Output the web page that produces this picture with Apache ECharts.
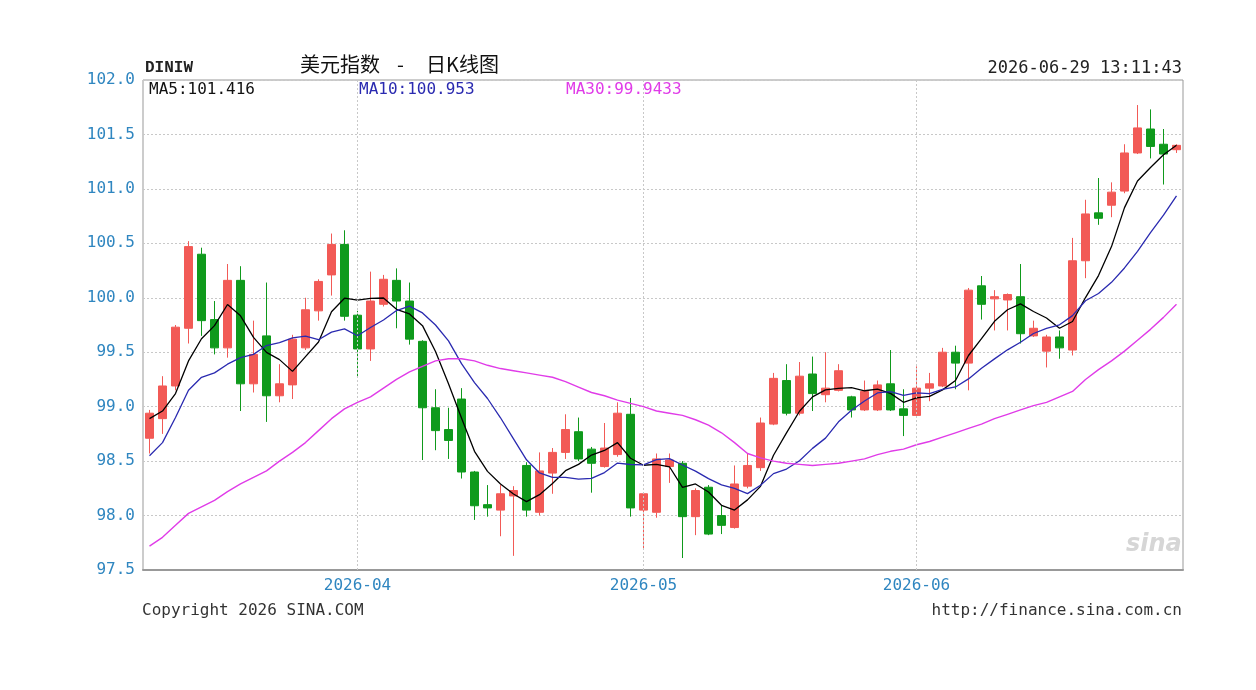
<!DOCTYPE html>
<html>
<head>
<meta charset="utf-8">
<title>美元指数 - 日K线图</title>
<script src="https://cdn.jsdelivr.net/npm/echarts@6/dist/echarts.min.js"></script>
<style>
  html, body { margin: 0; padding: 0; background: #fff; }
  #chart { width: 1256px; height: 690px; }
</style>
</head>
<body>
<div id="chart"></div>
<script>
// daily bars, [open, close, low, high]
var kline = [
  [98.71, 98.94, 98.57, 98.97], [98.89, 99.19, 98.75, 99.28], [99.19, 99.73, 99.15, 99.75],
  [99.72, 100.47, 99.58, 100.52], [100.40, 99.79, 99.65, 100.46], [99.80, 99.54, 99.48, 99.97],
  [99.54, 100.16, 99.45, 100.31], [100.16, 99.21, 98.96, 100.29], [99.21, 99.48, 99.13, 99.79],
  [99.65, 99.10, 98.86, 100.14], [99.10, 99.21, 99.04, 99.39], [99.20, 99.62, 99.07, 99.66],
  [99.54, 99.89, 99.52, 100.00], [99.88, 100.15, 99.79, 100.17], [100.21, 100.49, 100.02, 100.59],
  [100.49, 99.83, 99.79, 100.62], [99.84, 99.53, 99.28, 99.88], [99.53, 99.97, 99.42, 100.24],
  [99.94, 100.17, 99.92, 100.21], [100.16, 99.97, 99.72, 100.27], [99.97, 99.62, 99.57, 100.14],
  [99.60, 98.99, 98.51, 99.61], [98.99, 98.78, 98.60, 99.16], [98.79, 98.69, 98.52, 98.99],
  [99.07, 98.40, 98.34, 99.17], [98.40, 98.09, 97.96, 98.41], [98.10, 98.07, 97.99, 98.28],
  [98.05, 98.20, 97.81, 98.28], [98.18, 98.23, 97.63, 98.27], [98.46, 98.05, 97.99, 98.49],
  [98.03, 98.41, 98.00, 98.58], [98.39, 98.58, 98.20, 98.62], [98.58, 98.79, 98.52, 98.93],
  [98.77, 98.52, 98.50, 98.90], [98.61, 98.48, 98.21, 98.63], [98.45, 98.62, 98.44, 98.85],
  [98.56, 98.94, 98.54, 99.04], [98.93, 98.07, 97.99, 99.08], [98.05, 98.20, 97.70, 98.21],
  [98.03, 98.52, 97.98, 98.57], [98.45, 98.51, 98.30, 98.57], [98.48, 97.99, 97.61, 98.50],
  [97.99, 98.23, 97.82, 98.25], [98.26, 97.83, 97.82, 98.28], [98.00, 97.91, 97.83, 98.09],
  [97.89, 98.29, 97.88, 98.46], [98.27, 98.46, 98.25, 98.57], [98.44, 98.85, 98.41, 98.90],
  [98.84, 99.26, 98.83, 99.31], [99.24, 98.94, 98.92, 99.39], [98.94, 99.28, 98.92, 99.41],
  [99.30, 99.12, 98.96, 99.46], [99.11, 99.17, 99.04, 99.50], [99.15, 99.33, 99.14, 99.39],
  [99.09, 98.97, 98.90, 99.10], [98.97, 99.14, 98.96, 99.24], [98.97, 99.20, 98.96, 99.24],
  [99.21, 98.97, 98.96, 99.52], [98.98, 98.92, 98.73, 99.16], [98.92, 99.17, 98.90, 99.37],
  [99.17, 99.21, 99.05, 99.31], [99.19, 99.50, 99.18, 99.54], [99.50, 99.40, 99.16, 99.56],
  [99.40, 100.07, 99.15, 100.09], [100.11, 99.94, 99.80, 100.20], [99.99, 100.01, 99.70, 100.07],
  [99.98, 100.03, 99.70, 100.04], [100.01, 99.67, 99.58, 100.31], [99.65, 99.72, 99.64, 99.79],
  [99.51, 99.64, 99.36, 99.66], [99.64, 99.54, 99.44, 99.70], [99.52, 100.34, 99.47, 100.55],
  [100.34, 100.77, 100.18, 100.90], [100.78, 100.73, 100.67, 101.10], [100.85, 100.97, 100.74, 101.06],
  [100.98, 101.33, 100.96, 101.41], [101.33, 101.56, 101.32, 101.77], [101.55, 101.39, 101.28, 101.73],
  [101.41, 101.32, 101.04, 101.55], [101.36, 101.40, 101.33, 101.41]
];

// MA30 (needs history before the window)
var ma30 = [
  97.72, 97.80, 97.91, 98.02, 98.08, 98.14, 98.22, 98.29, 98.35, 98.41,
  98.50, 98.58, 98.67, 98.78, 98.89, 98.98, 99.04, 99.09, 99.17, 99.25,
  99.32, 99.37, 99.42, 99.44, 99.44, 99.42, 99.38, 99.35, 99.33, 99.31,
  99.29, 99.27, 99.23, 99.18, 99.13, 99.10, 99.06, 99.03, 99.00, 98.96,
  98.94, 98.92, 98.88, 98.83, 98.76, 98.67, 98.57, 98.53, 98.50, 98.48,
  98.47, 98.46, 98.47, 98.48, 98.50, 98.52, 98.56, 98.59, 98.61, 98.65,
  98.68, 98.72, 98.76, 98.80, 98.84, 98.89, 98.93, 98.97, 99.01, 99.04,
  99.09, 99.14, 99.25, 99.34, 99.42, 99.51, 99.61, 99.71, 99.82, 99.94
];
// first MA5 / MA10 points
var ma5Lead = [98.89, 98.96, 99.12, 99.42];
var ma10Lead = [98.55, 98.67, 98.90, 99.15, 99.27, 99.31, 99.39, 99.45, 99.48];

var maLabels = ['MA5:101.416', 'MA10:100.953', 'MA30:99.9433'];
var yMin = 97.5, yMax = 102.0, yStep = 0.5;

// trading days (weekdays) from 2026-03-10
var dates = [];
var d = new Date(Date.UTC(2026, 2, 10));
while (dates.length < kline.length) {
  var wd = d.getUTCDay();
  if (wd !== 0 && wd !== 6) dates.push(d.toISOString().slice(0, 10));
  d.setUTCDate(d.getUTCDate() + 1);
}
var monthStarts = dates.filter(function (s) { return s.slice(8) === '01'; });

function movingAvg(n, lead) {
  return kline.map(function (bar, i) {
    if (i < n - 1) return lead[i];
    var s = 0;
    for (var k = i - n + 1; k <= i; k++) s += kline[k][1];
    return +(s / n).toFixed(3);
  });
}

var mono = '"DejaVu Sans Mono", monospace';
var chart = echarts.init(document.getElementById('chart'));

chart.setOption({
  animation: false,
  backgroundColor: '#fff',
  grid: { left: 143, right: 73, top: 80, bottom: 120, show: true, borderColor: '#999', borderWidth: 1 },
  xAxis: {
    type: 'category',
    data: dates,
    boundaryGap: true,
    axisLine: { lineStyle: { color: '#999', width: 2 } },
    axisTick: { show: false },
    splitLine: { show: false },
    axisLabel: {
      interval: function (idx, val) { return val.slice(8) === '01'; },
      formatter: function (val) { return val.slice(0, 7); },
      color: '#2f86c0', fontFamily: mono, fontSize: 16, margin: 8
    }
  },
  yAxis: {
    type: 'value',
    min: yMin, max: yMax, interval: yStep,
    axisLine: { show: false },
    axisTick: { show: false },
    axisLabel: {
      formatter: function (v) { return v.toFixed(1); },
      color: '#2f86c0', fontFamily: mono, fontSize: 16, margin: 8
    },
    splitLine: { lineStyle: { color: '#c8c8c8', type: [2, 2] } }
  },
  series: [
    {
      // month grid lines
      type: 'line', z: 1, silent: true, data: [], symbol: 'none',
      markLine: {
        silent: true, symbol: 'none', label: { show: false },
        lineStyle: { color: '#c8c8c8', type: [2, 2], width: 1 },
        data: monthStarts.map(function (s) { return { xAxis: s }; })
      }
    },
    {
      type: 'candlestick', z: 2,
      data: kline,
      barWidth: 9,
      itemStyle: { color: '#f25a56', color0: '#0f9a1c', borderColor: '#f25a56', borderColor0: '#0f9a1c', borderWidth: 1 }
    },
    { type: 'line', z: 3, data: movingAvg(5, ma5Lead), showSymbol: false, lineStyle: { color: '#000', width: 1.3 } },
    { type: 'line', z: 3, data: movingAvg(10, ma10Lead), showSymbol: false, lineStyle: { color: '#2a2ab0', width: 1.3 } },
    { type: 'line', z: 3, data: ma30, showSymbol: false, lineStyle: { color: '#e03ce8', width: 1.4 } }
  ],
  graphic: [
    { type: 'text', left: 145, top: 60, style: { text: 'DINIW', font: 'bold 16px "Liberation Mono", monospace', fill: '#222' } },
    { type: 'text', left: 300, top: 54, style: { text: '美元指数', font: '20px "Noto Sans CJK SC"', fill: '#111' } },
    { type: 'text', left: 397, top: 54, style: { text: '-', font: '20px "Noto Sans CJK SC"', fill: '#111' } },
    { type: 'text', left: 426, top: 54, style: { text: '日K线图', font: '20px "Noto Sans CJK SC"', fill: '#111' } },
    { type: 'text', right: 74, top: 60, style: { text: '2026-06-29 13:11:43', font: '17px ' + mono, fill: '#222' } },
    { type: 'text', left: 149, top: 82, z: 10, style: { text: maLabels[0], font: '16px ' + mono, fill: '#111' } },
    { type: 'text', left: 359, top: 82, z: 10, style: { text: maLabels[1], font: '16px ' + mono, fill: '#2a2ab0' } },
    { type: 'text', left: 566, top: 82, z: 10, style: { text: maLabels[2], font: '16px ' + mono, fill: '#e03ce8' } },
    { type: 'text', left: 1126, top: 533, z: 0, style: { text: 'sina', font: 'italic bold 24px "DejaVu Sans"', fill: '#d6d6d6' } },
    { type: 'text', left: 142, top: 603, style: { text: 'Copyright 2026 SINA.COM', font: '16px ' + mono, fill: '#333' } },
    { type: 'text', right: 74, top: 603, style: { text: 'http://finance.sina.com.cn', font: '16px ' + mono, fill: '#333' } }
  ]
});
</script>
</body>
</html>
